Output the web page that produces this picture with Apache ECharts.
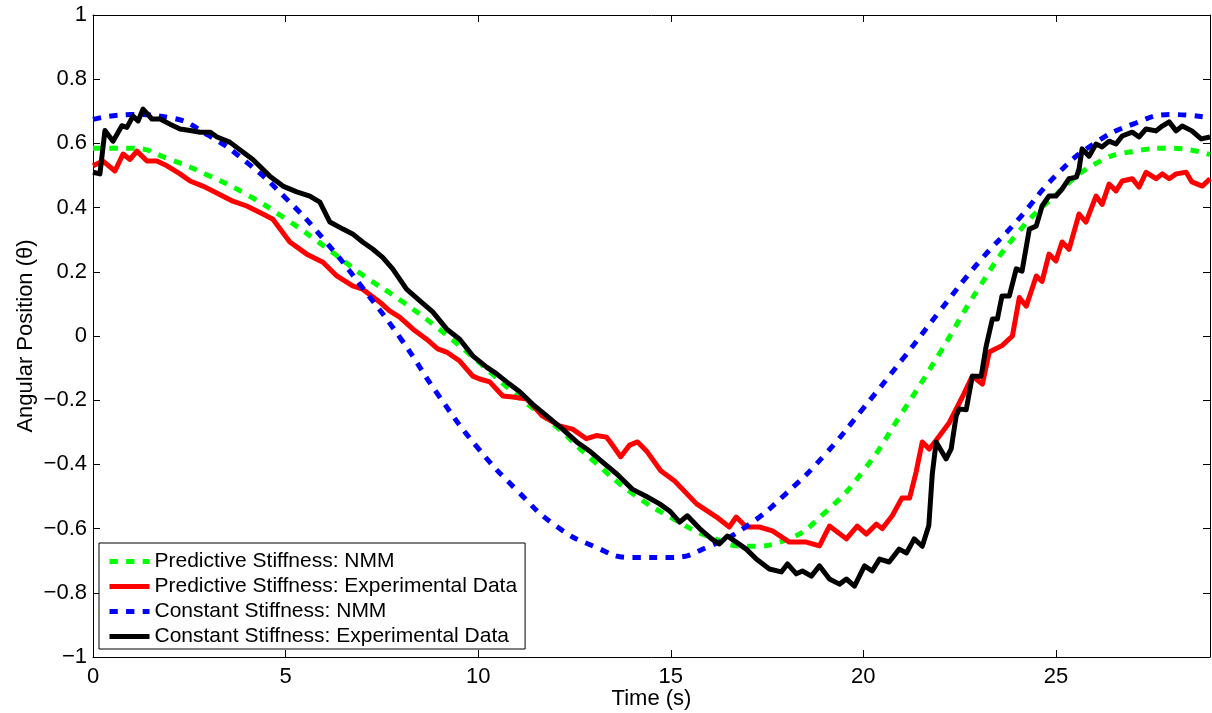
<!DOCTYPE html>
<html>
<head>
<meta charset="utf-8">
<script src="https://cdn.jsdelivr.net/npm/echarts@6/dist/echarts.min.js"></script>
<style>
html,body{margin:0;padding:0;background:#fff;}
#chart{width:1212px;height:713px;}
</style>
</head>
<body>
<div id="chart"></div>
<script>
// ---- Data ----
const xTicks = [0, 5, 10, 15, 20, 25];
const yTicks = [-1, -0.8, -0.6, -0.4, -0.2, 0, 0.2, 0.4, 0.6, 0.8, 1];
const seriesNames = [
  'Predictive Stiffness: NMM',
  'Predictive Stiffness: Experimental Data',
  'Constant Stiffness: NMM',
  'Constant Stiffness: Experimental Data'
];

// NMM model curves, sampled every second
const nmmTime = [0,1,2,3,4,5,6,7,8,9,10,11,12,13,14,15,16,17,18,19,20,21,22,23,24,25,26,27,28,29];
const predictiveNMM = [0.585,0.585,0.55,0.50,0.44,0.365,0.28,0.19,0.11,0.02,-0.08,-0.185,-0.28,-0.39,-0.49,-0.565,-0.625,-0.655,-0.635,-0.55,-0.42,-0.24,-0.05,0.15,0.32,0.44,0.535,0.575,0.585,0.565];
const constantNMM = [0.675,0.69,0.68,0.625,0.54,0.43,0.30,0.15,-0.01,-0.19,-0.35,-0.48,-0.59,-0.655,-0.69,-0.69,-0.655,-0.59,-0.49,-0.37,-0.225,-0.075,0.08,0.23,0.36,0.50,0.60,0.66,0.69,0.68];

// Predictive stiffness: experimental data
const predExpTime = [0,0.26,0.57,0.78,0.96,1.14,1.4,1.66,1.92,2.26,2.52,2.85,3.11,3.63,3.99,4.41,4.67,5.11,5.55,5.97,6.33,6.74,7.0,7.44,7.70,7.96,8.30,8.66,8.95,9.18,9.52,9.86,10.04,10.3,10.64,10.9,11.26,11.67,12.11,12.45,12.81,13.07,13.33,13.41,13.70,13.93,14.14,14.37,14.74,15.1,15.67,16.19,16.52,16.7,16.96,17.3,17.64,18.08,18.52,18.86,19.12,19.56,19.84,20.08,20.34,20.49,20.75,21.0,21.2,21.37,21.53,21.71,21.89,22.23,22.57,22.83,23.09,23.27,23.6,23.87,24.05,24.23,24.49,24.64,24.82,25.0,25.16,25.34,25.6,25.78,26.04,26.2,26.38,26.56,26.72,26.98,27.16,27.34,27.6,27.76,27.94,28.12,28.38,28.53,28.8,29.0];
const predExpValue = [0.53,0.545,0.514,0.567,0.55,0.576,0.545,0.545,0.53,0.505,0.483,0.467,0.452,0.42,0.405,0.38,0.364,0.293,0.255,0.23,0.187,0.156,0.146,0.106,0.078,0.059,0.022,-0.01,-0.04,-0.05,-0.078,-0.125,-0.134,-0.143,-0.187,-0.19,-0.196,-0.249,-0.28,-0.29,-0.32,-0.31,-0.315,-0.327,-0.376,-0.34,-0.33,-0.358,-0.42,-0.452,-0.523,-0.564,-0.595,-0.564,-0.595,-0.595,-0.607,-0.642,-0.642,-0.654,-0.592,-0.632,-0.592,-0.617,-0.586,-0.60,-0.56,-0.505,-0.505,-0.424,-0.33,-0.352,-0.325,-0.27,-0.19,-0.125,-0.15,-0.05,-0.03,0.0,0.12,0.093,0.187,0.17,0.255,0.234,0.293,0.27,0.38,0.355,0.436,0.41,0.473,0.452,0.483,0.49,0.464,0.51,0.49,0.505,0.49,0.505,0.51,0.48,0.467,0.49];

// Constant stiffness: experimental data
const constExpTime = [0,0.18,0.31,0.52,0.75,0.88,1.04,1.17,1.30,1.53,1.74,2.0,2.26,2.52,2.78,3.04,3.22,3.55,3.89,4.15,4.59,4.93,5.29,5.63,5.89,6.15,6.49,6.74,7.0,7.26,7.52,7.78,8.14,8.48,8.82,9.18,9.52,9.86,10.22,10.48,10.74,11.08,11.41,11.78,12.19,12.56,12.89,13.23,13.6,14.0,14.37,14.71,14.97,15.23,15.43,15.75,16.06,16.26,16.47,16.7,16.96,17.22,17.56,17.87,18.03,18.26,18.42,18.65,18.86,19.12,19.38,19.56,19.77,20.03,20.23,20.42,20.67,20.93,21.12,21.32,21.53,21.7,21.79,21.89,22.15,22.28,22.41,22.49,22.67,22.83,23.06,23.19,23.35,23.48,23.6,23.79,23.97,24.12,24.31,24.49,24.64,24.82,25.0,25.16,25.34,25.53,25.6,25.68,25.86,26.04,26.2,26.38,26.56,26.72,26.98,27.16,27.34,27.6,27.76,27.94,28.12,28.28,28.53,28.77,29.0];
const constExpValue = [0.51,0.505,0.64,0.607,0.655,0.65,0.685,0.67,0.707,0.676,0.676,0.66,0.645,0.64,0.635,0.635,0.62,0.604,0.573,0.55,0.498,0.467,0.449,0.436,0.417,0.355,0.333,0.318,0.293,0.271,0.245,0.209,0.146,0.11,0.075,0.022,-0.01,-0.062,-0.097,-0.118,-0.143,-0.174,-0.212,-0.249,-0.29,-0.33,-0.358,-0.393,-0.43,-0.477,-0.50,-0.523,-0.545,-0.58,-0.56,-0.60,-0.632,-0.648,-0.623,-0.642,-0.664,-0.695,-0.726,-0.735,-0.71,-0.741,-0.732,-0.748,-0.716,-0.757,-0.773,-0.757,-0.779,-0.716,-0.732,-0.695,-0.704,-0.664,-0.676,-0.632,-0.655,-0.59,-0.43,-0.33,-0.383,-0.352,-0.249,-0.227,-0.23,-0.125,-0.125,-0.031,0.053,0.053,0.125,0.125,0.209,0.202,0.333,0.343,0.405,0.436,0.436,0.458,0.49,0.495,0.52,0.583,0.56,0.598,0.589,0.607,0.598,0.623,0.635,0.62,0.645,0.639,0.654,0.667,0.639,0.654,0.639,0.614,0.62];

// ---- Build chart ----
const pairs = (xs, ys) => xs.map((x, i) => [x, ys[i]]);
const FONT = '"Liberation Sans", Arial, Helvetica, sans-serif';
const FS = 22;

function yFmt(v) {
  const r = Math.round(v * 10) / 10;
  if (!yTicks.some(t => Math.abs(t - r) < 1e-9)) return '';
  let s = (r === 0) ? '0' : (Math.abs(r) === 1 ? String(Math.abs(r)) : Math.abs(r).toFixed(1));
  return (r < 0 ? '\u2212' : '') + s;
}
function xFmt(v) {
  return xTicks.includes(Math.round(v * 1000) / 1000) ? String(v) : '';
}

const axisLineStyle = { show: true, onZero: false, lineStyle: { color: '#000', width: 1 } };
const tickStyle = { show: true, inside: true, length: 7, lineStyle: { color: '#000', width: 1 } };

const chart = echarts.init(document.getElementById('chart'), null, { renderer: 'canvas' });
chart.setOption({
  animation: false,
  backgroundColor: '#fff',
  grid: { left: 93, right: 2, top: 15, bottom: 56, containLabel: false, outerBoundsMode: 'none' },
  xAxis: [
    {
      type: 'value', min: 0, max: 29, interval: 5, position: 'bottom',
      name: 'Time (s)', nameLocation: 'middle', nameGap: 31, nameMoveOverlap: false,
      nameTextStyle: { fontFamily: FONT, fontSize: FS, color: '#000' },
      axisLine: axisLineStyle, axisTick: tickStyle,
      axisLabel: { formatter: xFmt, fontFamily: FONT, fontSize: FS, color: '#000', margin: 9, showMaxLabel: false },
      splitLine: { show: false }
    },
    {
      type: 'value', min: 0, max: 29, interval: 5, position: 'top',
      axisLine: axisLineStyle, axisTick: tickStyle,
      axisLabel: { show: false }, splitLine: { show: false }
    }
  ],
  yAxis: [
    {
      type: 'value', min: -1, max: 1, interval: 0.2, position: 'left',
      name: 'Angular Position (\u03b8)', nameLocation: 'middle', nameGap: 56, nameMoveOverlap: false,
      nameTextStyle: { fontFamily: FONT, fontSize: FS, color: '#000' },
      axisLine: axisLineStyle, axisTick: tickStyle,
      axisLabel: { formatter: yFmt, fontFamily: FONT, fontSize: FS, color: '#000', margin: 6 },
      splitLine: { show: false }
    },
    {
      type: 'value', min: -1, max: 1, interval: 0.2, position: 'right',
      axisLine: axisLineStyle, axisTick: tickStyle,
      axisLabel: { show: false }, splitLine: { show: false }
    }
  ],
  legend: {
    orient: 'vertical', left: 99, top: 543,
    itemWidth: 40, itemHeight: 4, itemGap: 4,
    padding: [8, 8, 2, 8],
    borderColor: '#000', borderWidth: 1, backgroundColor: '#fff',
    textStyle: { fontFamily: FONT, fontSize: 21, color: '#000' },
    lineStyle: { width: 5 },
    data: seriesNames
  },
  series: [
    {
      name: seriesNames[0], type: 'line', symbol: 'none', smooth: true,
      data: pairs(nmmTime, predictiveNMM),
      lineStyle: { color: '#00ff00', width: 5, type: [8.3, 8.3], cap: 'butt' },
      itemStyle: { color: '#00ff00' }
    },
    {
      name: seriesNames[1], type: 'line', symbol: 'none',
      data: pairs(predExpTime, predExpValue),
      lineStyle: { color: '#ff0000', width: 5, join: 'round' },
      itemStyle: { color: '#ff0000' }
    },
    {
      name: seriesNames[2], type: 'line', symbol: 'none', smooth: true,
      data: pairs(nmmTime, constantNMM),
      lineStyle: { color: '#0000ff', width: 5, type: [8.3, 8.3], cap: 'butt' },
      itemStyle: { color: '#0000ff' }
    },
    {
      name: seriesNames[3], type: 'line', symbol: 'none',
      data: pairs(constExpTime, constExpValue),
      lineStyle: { color: '#000000', width: 5, join: 'round' },
      itemStyle: { color: '#000000' }
    }
  ]
});
</script>
</body>
</html>
